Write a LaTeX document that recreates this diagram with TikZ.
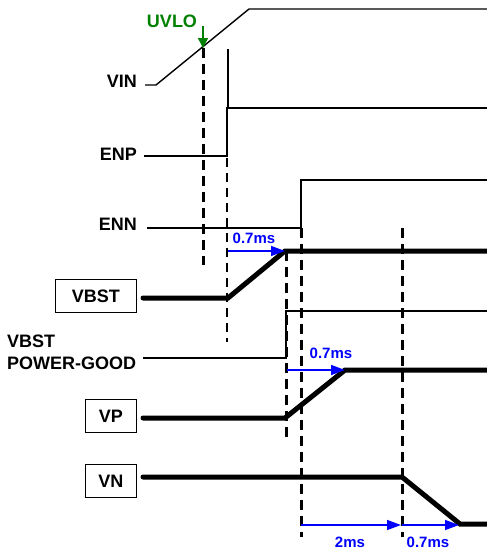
\documentclass[tikz,border=0pt]{standalone}
\usepackage{fontspec}
\setmainfont{Liberation Sans}
\usetikzlibrary{arrows.meta,positioning}
\definecolor{uvgreen}{HTML}{008000}
\definecolor{tblue}{HTML}{0000FF}

\begin{document}
\begin{tikzpicture}[x=1pt,y=-1pt,
 lbl/.style={font=\bfseries\fontsize{18}{22}\selectfont,inner sep=0pt,anchor=east},
 tag/.style={draw,line width=1.2pt,font=\bfseries\fontsize{18}{22}\selectfont,
 minimum height=33pt,inner sep=0pt,anchor=east},
 dly/.style={font=\bfseries\fontsize{15}{18}\selectfont,text=tblue,inner sep=0pt},
 thin/.style={line width=1.4pt},
 bold/.style={line width=5pt,line cap=round},
 tmark/.style={line width=3pt,dash pattern=on 10pt off 6pt},
 fine/.style={line width=2.2pt,dash pattern=on 9pt off 6pt},
 dt/.style={tblue,line width=1.4pt,-{Triangle[length=14pt,width=10pt]}}]
\useasboundingbox (0,0) rectangle (487,550);

% signal names
\node[lbl] (vin) at (137,81) {VIN};
\node[lbl] (enp) at (137,154) {ENP};
\node[lbl] (enn) at (137,224) {ENN};
\node[tag,minimum width=81pt] (vbst) at (137,296) {VBST};
\node[lbl,anchor=north west,align=left] (pg) at (7,335) {VBST\\POWER-GOOD};
\node[tag,minimum width=51pt] (vp) at (137,416) {VP};
\node[tag,minimum width=51pt] (vn) at (137,481) {VN};

% waveforms
\draw[thin] (145,85) -- (156,85) -- (249,9) -- (487,9);
\draw[thin] (144,156) -- (227,156) -- (227,108) -- (487,108);
\draw[thin] (228,49) -- (228,108);
\draw[thin] (147,228) -- (301,228) -- (301,180) -- (487,180);
\draw[bold] (143,298) -- (228,298) -- (285,251) -- (495,251);
\draw[thin] (143,358) -- (286,358) -- (286,311) -- (487,311);
\draw[bold] (143,418) -- (285,418) -- (345,370) -- (495,370);
\draw[bold] (143,477) -- (402,477) -- (460,524) -- (495,524);

% timing marks
\draw[tmark] (203,48) -- (203,265);
\draw[fine] (227,158) -- (227,342);
\foreach \x/\a/\b in {286/251/438,301/228/537,402/228/537}
 \draw[tmark] (\x,\a) -- (\x,\b);

% UVLO threshold
\node[font=\bfseries\fontsize{18}{22}\selectfont,text=uvgreen,inner sep=0pt] (uvlo) at (172,21) {UVLO};
\draw[uvgreen,line width=1.4pt,-{Triangle[length=10pt,width=10pt]}] (203,26) -- (203,48);

% delays
\draw[dt] (228,251) -- (285,251);
\node[dly] (d1) at (254,238) {0.7ms};
\draw[dt] (287,370) -- (345,370);
\node[dly] (d2) at (331,353) {0.7ms};
\draw[dt] (301,525) -- (401,525);
\node[dly] (d3) at (350,542) {2ms};
\draw[dt] (402,525) -- (459,525);
\node[dly] (d4) at (428,542) {0.7ms};
\end{tikzpicture}
\end{document}
